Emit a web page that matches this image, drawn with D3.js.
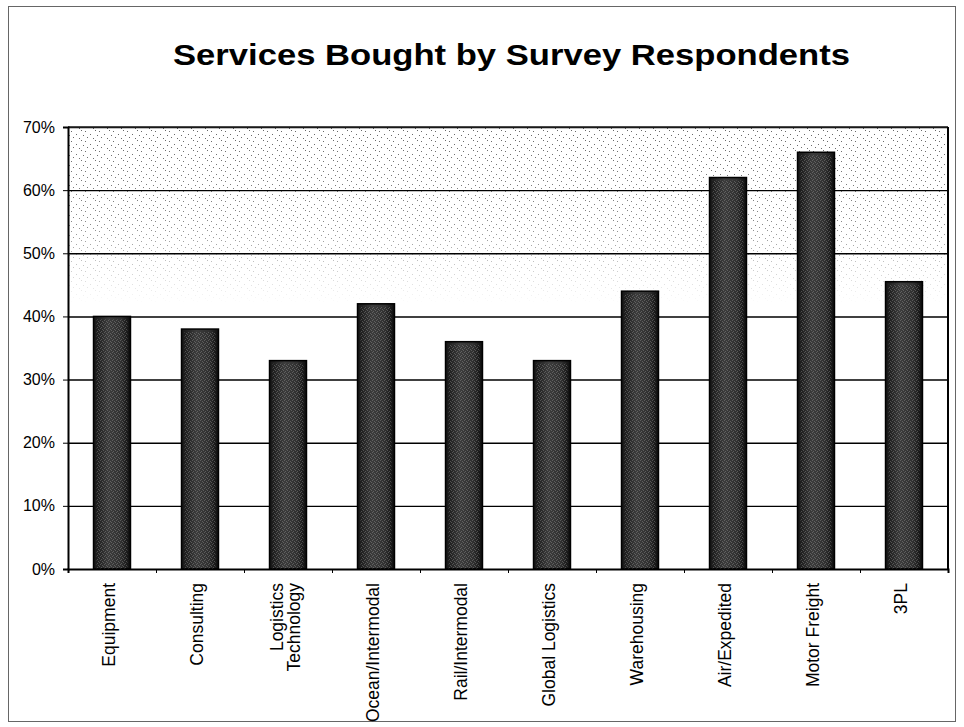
<!DOCTYPE html>
<html>
<head>
<meta charset="utf-8">
<script src="https://cdn.jsdelivr.net/npm/d3@7"></script>
<style>
  html, body { margin: 0; padding: 0; background: #fff; }
  svg { display: block; font-family: "Liberation Sans", Arial, sans-serif; }
</style>
</head>
<body>
<svg id="chart" width="964" height="727"></svg>
<script>
// ---- Data ----
const categories = ["Equipment", "Consulting", "Logistics Technology", "Ocean/Intermodal",
  "Rail/Intermodal", "Global Logistics", "Warehousing", "Air/Expedited", "Motor Freight", "3PL"];
const categoryLines = [["Equipment"], ["Consulting"], ["Logistics", "Technology"], ["Ocean/Intermodal"],
  ["Rail/Intermodal"], ["Global Logistics"], ["Warehousing"], ["Air/Expedited"], ["Motor Freight"], ["3PL"]];
const values = [0.40, 0.38, 0.33, 0.42, 0.36, 0.33, 0.44, 0.62, 0.66, 0.455];
const yTicks = [0, 0.1, 0.2, 0.3, 0.4, 0.5, 0.6, 0.7];
const title = "Services Bought by Survey Respondents";

// ---- Layout ----
const svg = d3.select("#chart");
const pLeft = 68, pRight = 948, pTop = 127, pBottom = 569;

const x = d3.scaleBand().domain(categories).range([pLeft, pRight]).paddingInner(0.58).paddingOuter(0.29);
const xi = d3.scaleLinear().domain([0, categories.length]).range([pLeft, pRight]);
const y = d3.scaleLinear().domain([0, 0.7]).range([pBottom, pTop]);

const defs = svg.append("defs");

// stipple pattern for plot background
const pat = defs.append("pattern").attr("id", "stip").attr("width", 14).attr("height", 10)
  .attr("patternUnits", "userSpaceOnUse");
[[1,1],[6,4],[11,0],[3,7],[9,8],[13,5]].forEach(p => {
  pat.append("rect").attr("x", p[0]).attr("y", p[1]).attr("width", 1).attr("height", 1).attr("fill", "#555");
});
const fade = defs.append("linearGradient").attr("id", "fade").attr("x1", 0).attr("x2", 0).attr("y1", 0).attr("y2", 1);
fade.append("stop").attr("offset", "0%").attr("stop-color", "#fff").attr("stop-opacity", 0.9);
fade.append("stop").attr("offset", "55%").attr("stop-color", "#fff").attr("stop-opacity", 0.7);
fade.append("stop").attr("offset", "100%").attr("stop-color", "#fff").attr("stop-opacity", 0);
const mask = defs.append("mask").attr("id", "fadeMask").attr("maskUnits", "userSpaceOnUse");
mask.append("rect").attr("x", pLeft).attr("y", y(0.7)).attr("width", pRight - pLeft)
  .attr("height", y(0.42) - y(0.7)).attr("fill", "url(#fade)");

// bar gradient + stipple
const bg = defs.append("linearGradient").attr("id", "barGrad").attr("x1", 0).attr("x2", 1).attr("y1", 0).attr("y2", 0);
bg.append("stop").attr("offset", "0%").attr("stop-color", "#151515");
bg.append("stop").attr("offset", "40%").attr("stop-color", "#3c3c3c");
bg.append("stop").attr("offset", "75%").attr("stop-color", "#303030");
bg.append("stop").attr("offset", "100%").attr("stop-color", "#0d0d0d");
const bpat = defs.append("pattern").attr("id", "barStip").attr("width", 4).attr("height", 4)
  .attr("patternUnits", "userSpaceOnUse");
[[0,0],[2,1],[1,3],[3,2]].forEach(p => {
  bpat.append("rect").attr("x", p[0]).attr("y", p[1]).attr("width", 1).attr("height", 1).attr("fill", "#bbb");
});

// outer frame
svg.append("rect").attr("x", 8.5).attr("y", 6.5).attr("width", 947).attr("height", 715)
  .attr("fill", "none").attr("stroke", "#666").attr("stroke-width", 1);

// title
svg.append("text").attr("x", 511.5).attr("y", 65).attr("text-anchor", "middle")
  .attr("font-size", 30).attr("font-weight", "bold").attr("fill", "#000")
  .attr("textLength", 677).attr("lengthAdjust", "spacingAndGlyphs").text(title);

// plot background stipple
svg.append("rect").attr("x", pLeft).attr("y", y(0.7)).attr("width", pRight - pLeft)
  .attr("height", y(0.42) - y(0.7)).attr("fill", "url(#stip)").attr("mask", "url(#fadeMask)");

// gridlines
svg.append("g").attr("transform", `translate(${pLeft},0)`)
  .call(d3.axisLeft(y).tickValues(yTicks.slice(1)).tickSize(-(pRight - pLeft)).tickFormat(""))
  .call(g => g.select(".domain").remove())
  .call(g => g.selectAll("line").attr("stroke", "#000").attr("stroke-width", 1.4));

// bars
const bars = svg.append("g");
bars.selectAll("rect.bar").data(categories).join("rect").attr("class", "bar")
  .attr("x", d => x(d)).attr("width", x.bandwidth())
  .attr("y", (d, i) => y(values[i])).attr("height", (d, i) => y(0) - y(values[i]))
  .attr("fill", "url(#barGrad)").attr("stroke", "#000").attr("stroke-width", 1.5);
bars.selectAll("rect.stip").data(categories).join("rect").attr("class", "stip")
  .attr("x", d => x(d) + 3).attr("width", x.bandwidth() - 6)
  .attr("y", (d, i) => y(values[i]) + 3).attr("height", (d, i) => y(0) - y(values[i]) - 3)
  .attr("fill", "url(#barStip)").attr("opacity", 0.3);

// plot frame
svg.append("line").attr("x1", pLeft).attr("x2", pRight).attr("y1", pTop).attr("y2", pTop)
  .attr("stroke", "#222").attr("stroke-width", 1.5);
svg.append("line").attr("x1", pRight).attr("x2", pRight).attr("y1", pTop).attr("y2", pBottom)
  .attr("stroke", "#000").attr("stroke-width", 2);

// y axis
svg.append("g").attr("transform", `translate(${pLeft},0)`)
  .call(d3.axisLeft(y).tickValues(yTicks).tickFormat(d3.format(".0%")).tickSize(5).tickPadding(8))
  .call(g => g.select(".domain").attr("stroke", "#000").attr("stroke-width", 2))
  .call(g => g.selectAll("line").attr("stroke", "#000"))
  .call(g => g.selectAll("text").attr("font-size", 16).attr("fill", "#000")
    .attr("font-family", "'Liberation Sans', Arial, sans-serif"));

// x axis (boundary ticks)
svg.append("g").attr("transform", `translate(0,${pBottom})`)
  .call(d3.axisBottom(xi).tickValues(d3.range(categories.length + 1)).tickSize(4).tickFormat(""))
  .call(g => g.select(".domain").attr("stroke", "#000").attr("stroke-width", 2))
  .call(g => g.selectAll("line").attr("stroke", "#000"));

// x labels (rotated)
const lab = svg.append("g").selectAll("g").data(categories).join("g")
  .attr("transform", d => `translate(${x(d) + x.bandwidth() / 2 + 1},${pBottom})`);
lab.append("text").attr("transform", "rotate(-90)").attr("text-anchor", "end")
  .attr("font-size", 17.5).attr("fill", "#000")
  .each(function (d, i) {
    const lines = categoryLines[i];
    const t = d3.select(this);
    lines.forEach((ln, k) => {
      const off = lines.length === 1 ? 2 : (k === 0 ? -6 : 11);
      t.append("tspan").attr("x", -14).attr("y", off).text(ln);
    });
  });
</script>
</body>
</html>
